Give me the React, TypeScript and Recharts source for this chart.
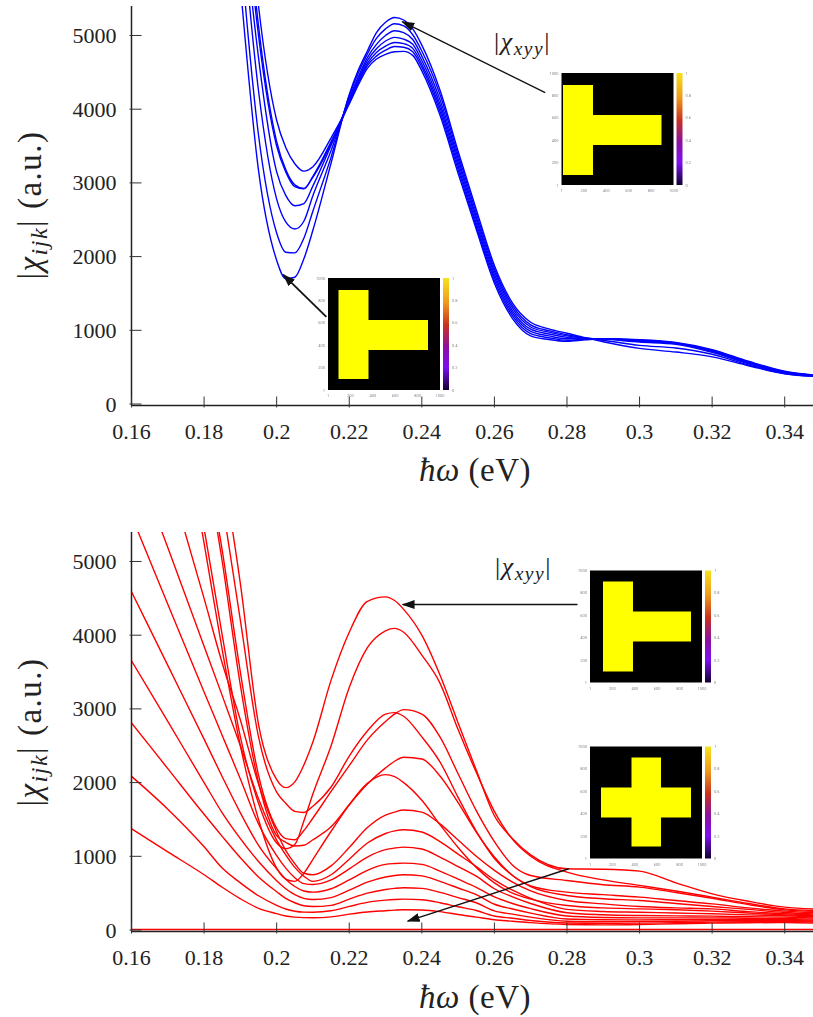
import { LineChart, Line, XAxis, YAxis, ReferenceLine } from 'recharts'

const xTicks = [0.16, 0.18, 0.2, 0.22, 0.24, 0.26, 0.28, 0.3, 0.32, 0.34]
const yTicks = [0, 1000, 2000, 3000, 4000, 5000]

// upper panel
const energyTop = [0.18, 0.185, 0.19, 0.195, 0.2, 0.2025, 0.205, 0.2075, 0.21, 0.215, 0.22, 0.2225, 0.225, 0.2275, 0.23, 0.2325, 0.235, 0.2375, 0.24, 0.245, 0.25, 0.255, 0.26, 0.265, 0.27, 0.275, 0.28, 0.285, 0.29, 0.3, 0.31, 0.32, 0.33, 0.34, 0.35]
const blueA = [12000, 8700, 5680, 3170, 1950, 1700, 1720, 1970, 2360, 3270, 4200, 4530, 4790, 5040, 5180, 5245, 5210, 5090, 4870, 4260, 3430, 2640, 1880, 1370, 1110, 1020, 960, 900, 845, 755, 705, 640, 520, 410, 370]
const blueB = [12800, 9500, 6200, 3650, 2320, 2060, 2050, 2250, 2620, 3350, 4180, 4490, 4750, 4960, 5090, 5160, 5130, 5010, 4790, 4200, 3380, 2590, 1840, 1335, 1075, 995, 940, 895, 865, 795, 760, 675, 530, 415, 372]
const blueC = [13500, 10000, 6800, 4250, 2780, 2470, 2375, 2480, 2830, 3440, 4150, 4440, 4700, 4880, 5000, 5065, 5040, 4945, 4720, 4130, 3330, 2540, 1800, 1300, 1045, 975, 925, 892, 880, 840, 810, 700, 545, 425, 375]
const blueD = [14000, 10500, 7100, 4700, 3150, 2830, 2690, 2720, 2960, 3510, 4120, 4410, 4660, 4820, 4925, 4975, 4950, 4880, 4660, 4070, 3280, 2500, 1760, 1265, 1015, 950, 905, 890, 885, 850, 820, 712, 555, 430, 377]
const blueE = [14500, 11000, 7500, 5000, 3500, 3150, 2950, 2920, 3090, 3560, 4100, 4380, 4620, 4770, 4855, 4905, 4890, 4825, 4610, 4020, 3230, 2450, 1720, 1230, 985, 925, 885, 885, 885, 858, 825, 722, 565, 435, 380]
const blueF = [15000, 11500, 7800, 5130, 3560, 3180, 2975, 2925, 3080, 3530, 4080, 4350, 4590, 4720, 4800, 4850, 4840, 4780, 4570, 3970, 3180, 2410, 1680, 1195, 955, 900, 865, 878, 885, 865, 830, 730, 572, 440, 382]
const blueG = [15500, 12000, 8100, 5400, 3850, 3480, 3260, 3160, 3220, 3610, 4070, 4330, 4555, 4680, 4745, 4780, 4785, 4730, 4520, 3920, 3130, 2370, 1640, 1160, 925, 875, 850, 870, 885, 873, 835, 738, 580, 445, 385]
const blueSeries = [blueA, blueB, blueC, blueD, blueE, blueF, blueG]

// lower panel
const energyBottom = [0.16, 0.17, 0.18, 0.185, 0.19, 0.195, 0.2, 0.2025, 0.205, 0.2075, 0.21, 0.215, 0.22, 0.225, 0.23, 0.2325, 0.235, 0.24, 0.245, 0.25, 0.255, 0.26, 0.265, 0.27, 0.28, 0.29, 0.3, 0.31, 0.32, 0.33, 0.34, 0.35]
const red1 = [12000, 10000, 7700, 6300, 4700, 2790, 2040, 1932, 2010, 2240, 2555, 3390, 4040, 4460, 4520, 4470, 4350, 4000, 3460, 2810, 2170, 1550, 1240, 1020, 831, 825, 799, 640, 491, 390, 310, 280]
const red2 = [11000, 8000, 5450, 4000, 2620, 1720, 1180, 1103, 1160, 1480, 1850, 2500, 3290, 3830, 4060, 4092, 4040, 3730, 3350, 2720, 2140, 1610, 1230, 1000, 785, 680, 605, 530, 446, 360, 287, 260]
const red3 = [12000, 10000, 7300, 5800, 4200, 2620, 1870, 1720, 1610, 1595, 1680, 1940, 2360, 2700, 2930, 2950, 2900, 2620, 2280, 1800, 1340, 970, 740, 600, 514, 480, 446, 400, 355, 300, 256, 230]
const red4 = [12000, 11000, 6600, 5150, 3500, 2100, 1380, 1240, 1225, 1350, 1520, 1880, 2230, 2580, 2830, 2930, 2990, 2930, 2620, 2120, 1620, 1200, 880, 740, 672, 615, 582, 510, 432, 345, 274, 250]
const red5 = [12000, 10000, 6500, 5000, 3320, 2000, 1280, 1190, 1140, 1150, 1225, 1400, 1700, 1980, 2200, 2290, 2345, 2320, 2090, 1730, 1330, 990, 740, 590, 469, 425, 401, 360, 319, 280, 238, 215]
const red6 = [11000, 8000, 5250, 3800, 2500, 1500, 840, 690, 660, 770, 960, 1340, 1700, 1990, 2108, 2080, 2000, 1760, 1430, 1120, 850, 640, 500, 420, 333, 300, 287, 275, 256, 230, 206, 190]
const red7 = [7900, 6200, 4500, 3620, 2850, 1980, 1330, 1080, 900, 770, 750, 870, 1120, 1390, 1560, 1600, 1628, 1600, 1440, 1220, 1000, 810, 650, 530, 400, 355, 319, 300, 287, 250, 220, 200]
const red8 = [6500, 5190, 3850, 3180, 2500, 1780, 1220, 1020, 850, 730, 660, 750, 960, 1180, 1310, 1345, 1361, 1330, 1200, 1030, 860, 680, 540, 430, 280, 252, 242, 230, 220, 205, 193, 175]
const red9 = [5620, 4420, 3230, 2640, 2050, 1440, 1010, 840, 710, 630, 618, 680, 830, 990, 1090, 1112, 1125, 1100, 990, 860, 730, 560, 450, 360, 235, 208, 197, 192, 188, 180, 175, 160]
const red10 = [4590, 3590, 2590, 2080, 1590, 1150, 830, 690, 590, 530, 514, 560, 680, 810, 890, 902, 908, 890, 800, 690, 580, 450, 360, 290, 190, 170, 165, 165, 165, 160, 156, 145]
const red11 = [3652, 2830, 2000, 1590, 1240, 930, 670, 560, 480, 430, 414, 440, 540, 650, 720, 740, 750, 735, 660, 570, 480, 350, 285, 230, 150, 140, 138, 140, 143, 143, 143, 130]
const red12 = [2810, 2190, 1570, 1270, 980, 720, 520, 430, 370, 330, 319, 335, 420, 500, 550, 565, 573, 565, 510, 440, 370, 260, 215, 175, 120, 112, 115, 120, 125, 128, 129, 118]
const red13 = [2085, 1640, 1130, 840, 640, 465, 335, 285, 255, 243, 242, 262, 320, 375, 405, 414, 419, 410, 370, 315, 265, 190, 160, 130, 95, 90, 93, 100, 107, 112, 115, 105]
const red14 = [1375, 1060, 750, 580, 424, 295, 222, 190, 175, 168, 166, 178, 215, 245, 262, 270, 275, 272, 250, 210, 175, 140, 120, 100, 75, 70, 75, 85, 93, 98, 102, 90]
const red15 = [8, 8, 8, 8, 8, 8, 8, 8, 8, 8, 8, 8, 8, 8, 8, 8, 8, 8, 8, 8, 8, 8, 8, 8, 8, 8, 8, 8, 8, 8, 8, 8]
const redSeries = [red1, red2, red3, red4, red5, red6, red7, red8, red9, red10, red11, red12, red13, red14, red15]

const inkColor = '#222'
const fontFamily = '"Liberation Serif", serif'

const topRows = energyTop.map((energy, i) => {
  const row: Record<string, number> = { energy }
  blueSeries.forEach((s, k) => (row[`s${k}`] = s[i]))
  return row
})
const bottomRows = energyBottom.map((energy, i) => {
  const row: Record<string, number> = { energy }
  redSeries.forEach((s, k) => (row[`s${k}`] = s[i]))
  return row
})

function BottomTick({ x, y, payload }: any) {
  return (
    <g>
      <line x1={x} x2={x} y1={y} y2={y - 11} stroke="#333" strokeWidth={1} />
      <text x={x} y={y + 31} textAnchor="middle" fontSize={22} fontFamily={fontFamily} fill={inkColor}>
        {String(payload.value)}
      </text>
    </g>
  )
}

function TopTick({ x, y }: any) {
  return <line x1={x} x2={x} y1={y} y2={y + 11} stroke="#333" strokeWidth={1} />
}

function LeftTick({ x, y, payload }: any) {
  return (
    <g>
      <line x1={x} x2={x + 12} y1={y} y2={y} stroke="#333" strokeWidth={1} />
      <text x={x - 13} y={y + 7.5} textAnchor="end" fontSize={22} fontFamily={fontFamily} fill={inkColor}>
        {payload.value}
      </text>
    </g>
  )
}

function RightTick({ x, y }: any) {
  return <line x1={x} x2={x - 12} y1={y} y2={y} stroke="#333" strokeWidth={1} />
}

function Arrow({ x1, y1, x2, y2, width }: any) {
  return <line x1={x1} y1={y1} x2={x2} y2={y2} stroke="#111" strokeWidth={width} markerEnd="url(#arrowHead)" />
}

function Panel({ rows, count, color, arrows }: any) {
  return (
    <LineChart width={840} height={500} data={rows} margin={{ top: 6, right: 19, bottom: 0, left: 0 }}>
      <defs>
        <marker id="arrowHead" viewBox="0 0 13 9" refX={12} refY={4.5} markerWidth={13} markerHeight={9} markerUnits="userSpaceOnUse" orient="auto">
          <path d="M0,0 L13,4.5 L0,9 Z" fill="#111" />
        </marker>
      </defs>
      <XAxis
        dataKey="energy"
        type="number"
        domain={[0.16, 0.35]}
        allowDataOverflow
        ticks={xTicks}
        interval={0}
        height={94.5}
        tickSize={0}
        tickLine={false}
        tick={<BottomTick />}
        stroke={inkColor}
        strokeWidth={1.5}
      />
      <XAxis
        xAxisId="top"
        orientation="top"
        dataKey="energy"
        type="number"
        domain={[0.16, 0.35]}
        allowDataOverflow
        ticks={xTicks}
        interval={0}
        height={0}
        tickSize={0}
        tickLine={false}
        tick={<TopTick />}
        stroke={inkColor}
        strokeWidth={1.5}
      />
      <YAxis
        type="number"
        domain={[-20, 5400]}
        allowDataOverflow
        ticks={yTicks}
        interval={0}
        width={131.5}
        tickSize={0}
        tickLine={false}
        tick={<LeftTick />}
        stroke={inkColor}
        strokeWidth={1.5}
      />
      <YAxis
        yAxisId="right"
        orientation="right"
        type="number"
        domain={[-20, 5400]}
        allowDataOverflow
        ticks={yTicks}
        interval={0}
        width={0}
        tickSize={0}
        tickLine={false}
        tick={<RightTick />}
        stroke={inkColor}
        strokeWidth={1.5}
      />
      {Array.from({ length: count }, (_, k) => (
        <Line
          key={k}
          dataKey={`s${k}`}
          type="monotone"
          stroke={color}
          strokeWidth={1.4}
          dot={false}
          isAnimationActive={false}
        />
      ))}
      {arrows.map((a: any, i: number) => (
        <ReferenceLine
          key={i}
          segment={[{ x: a[0], y: a[1] }, { x: a[2], y: a[3] }]}
          shape={<Arrow width={a[4]} />}
        />
      ))}
    </LineChart>
  )
}

const heatStops = [
  ['0%', '#f6e21c'],
  ['22%', '#ee9a1c'],
  ['42%', '#c8321e'],
  ['62%', '#8c10a0'],
  ['80%', '#7c10f0'],
  ['100%', '#120030'],
]
const insetRowTicks = ['1000', '800', '600', '400', '200', '1']
const insetColTicks = ['1', '200', '400', '600', '800', '1000']
const barTicks = ['1', '0.8', '0.6', '0.4', '0.2', '0']

function Inset({ x, y, shapes }: { x: number; y: number; shapes: number[][] }) {
  return (
    <g transform={`translate(${x},${y})`} style={{ filter: 'blur(0.5px)' }}>
      <rect x={0} y={0} width={112} height={112} fill="#000" />
      {shapes.map((s, i) => (
        <rect key={i} x={s[0]} y={s[1]} width={s[2]} height={s[3]} fill="#ffff00" />
      ))}
      <rect x={115} y={0} width={6} height={112} fill="url(#heatBar)" />
      {insetRowTicks.map((t, i) => (
        <text key={t} x={-3} y={i * 22.4 + 1.5} textAnchor="end" fontSize={4} fill="#888" fontFamily="Roboto">{t}</text>
      ))}
      {insetColTicks.map((t, i) => (
        <text key={t} x={i * 22.4} y={119} textAnchor="middle" fontSize={4} fill="#889" fontFamily="Roboto">{t}</text>
      ))}
      {barTicks.map((t, i) => (
        <text key={t} x={124} y={i * 22.4 + 1.5} fontSize={4} fill="#888" fontFamily="Roboto">{t}</text>
      ))}
    </g>
  )
}

function ChiLabel({ x, y, size }: { x: number; y: number; size: number }) {
  return (
    <text x={x} y={y} fontSize={size} fontFamily={fontFamily} fill={inkColor} letterSpacing={1.5}>
      |<tspan fontStyle="italic">χ</tspan>
      <tspan fontStyle="italic" fontSize={size * 0.75} dy={size * 0.18}>xyy</tspan>
      <tspan dy={-size * 0.18}>|</tspan>
    </text>
  )
}

function AxisTitles({ offset }: { offset: number }) {
  return (
    <g>
      <text x={475} y={481 + offset} textAnchor="middle" fontSize={33} fontFamily={fontFamily} fill={inkColor} letterSpacing={0.5}>
        <tspan fontStyle="italic">ħω</tspan> (eV)
      </text>
      <text
        transform={`translate(41,${205 + offset}) rotate(-90)`}
        textAnchor="middle"
        fontSize={33}
        fontFamily={fontFamily}
        fill={inkColor}
        letterSpacing={1.5}
      >
        |<tspan fontStyle="italic">χ</tspan>
        <tspan fontStyle="italic" fontSize={24} dy={6}>ijk</tspan>
        <tspan dy={-6}>| (a.u.)</tspan>
      </text>
    </g>
  )
}

export default function App() {
  return (
    <div style={{ position: 'absolute', left: 0, top: 0, width: 813, height: 1017, overflow: 'hidden', background: '#fff' }}>
      <div style={{ position: 'absolute', left: 0, top: 0 }}>
        <Panel
          rows={topRows}
          count={blueSeries.length}
          color="#0000ff"
          arrows={[
            [0.274, 4225, 0.2346, 5187, 1.3],
            [0.2137, 1182, 0.2018, 1755, 1.8],
          ]}
        />
      </div>
      <div style={{ position: 'absolute', left: 0, top: 526 }}>
        <Panel
          rows={bottomRows}
          count={redSeries.length}
          color="#ff0000"
          arrows={[
            [0.2829, 4416, 0.2347, 4416, 1.5],
            [0.2805, 831, 0.2361, 120, 1.4],
          ]}
        />
      </div>
      <svg width={813} height={1017} style={{ position: 'absolute', left: 0, top: 0, pointerEvents: 'none' }}>
        <defs>
          <linearGradient id="heatBar" x1="0" y1="0" x2="0" y2="1">
            {heatStops.map((s) => (
              <stop key={s[0]} offset={s[0]} stopColor={s[1]} />
            ))}
          </linearGradient>
        </defs>
        <Inset x={561.5} y={73} shapes={[[1.5, 12, 30, 90], [31, 42, 69, 30]]} />
        <Inset x={328} y={278} shapes={[[10.5, 12, 30, 89], [40, 42, 60, 30]]} />
        <Inset x={590} y={570.5} shapes={[[13, 11, 30, 90], [43, 41, 58, 30]]} />
        <Inset x={590} y={746.5} shapes={[[41.5, 11, 29.5, 89], [11, 41, 90, 30]]} />
        <ChiLabel x={494} y={50} size={26} />
        <ChiLabel x={495} y={575} size={26} />
        <AxisTitles offset={0} />
        <AxisTitles offset={527} />
      </svg>
    </div>
  )
}
